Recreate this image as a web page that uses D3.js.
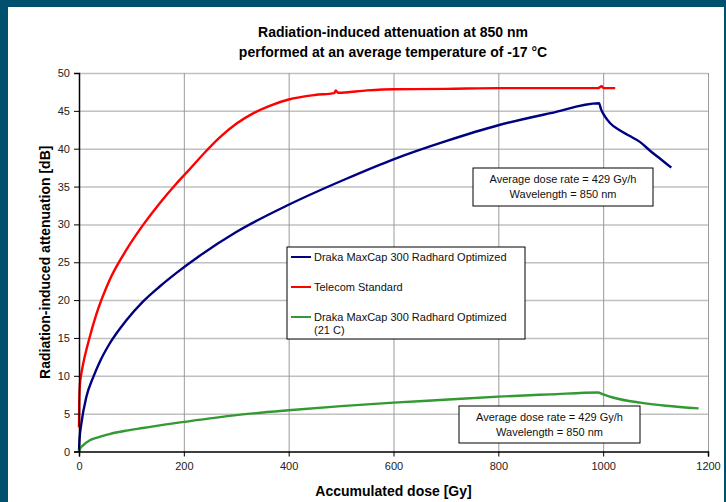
<html>
<head>
<script src="https://d3js.org/d3.v7.min.js"></script>
<style>
  body { margin: 0; background: #00506e; }
  text { font-family: "Liberation Sans", Arial, sans-serif; }
  .grid-h line { stroke: #c0c0c0; stroke-width: 1.5; }
  .grid-v line { stroke: #9a9a9a; stroke-width: 1; }
  .grid-h .domain, .grid-v .domain { stroke: none; }
</style>
</head>
<body>
<svg id="chart" width="726" height="502"></svg>
<script>
// data
const xTicks = [0, 200, 400, 600, 800, 1000, 1200];
const yTicks = [0, 5, 10, 15, 20, 25, 30, 35, 40, 45, 50];

const telecomDose = [0, 0.5, 1.5, 4, 8, 20, 33, 58, 90, 122, 154, 186, 210, 240, 267, 300, 333, 365, 400, 450, 487, 490, 494, 550, 600, 700, 800, 900, 990, 997, 1000, 1004, 1023];
const telecomAtt  = [3.2, 6.5, 8.6, 10.1, 11.6, 15.0, 18.1, 22.6, 26.6, 29.9, 32.8, 35.4, 37.2, 39.5, 41.4, 43.3, 44.7, 45.7, 46.5, 47.1, 47.35, 47.7, 47.4, 47.7, 47.85, 47.9, 48.0, 48.0, 48.0, 48.25, 48.05, 48.0, 48.0];

const maxcapDose = [0, 1, 4.5, 14, 27, 40, 58, 90, 122, 154, 186, 229, 300, 400, 509, 600, 700, 800, 900, 992, 996, 1003, 1013, 1030, 1050, 1070, 1090, 1110, 1130];
const maxcapAtt  = [0, 1.6, 3.7, 7.2, 9.8, 11.9, 14.2, 17.3, 19.8, 21.8, 23.6, 25.8, 29.0, 32.6, 36.0, 38.6, 41.0, 43.1, 44.7, 46.0, 45.2, 44.3, 43.4, 42.5, 41.7, 40.9, 39.7, 38.6, 37.5];

const warmDose = [0, 2, 7.6, 20, 33, 58, 90, 122, 154, 205, 300, 400, 500, 600, 689, 800, 900, 990, 1000, 1020, 1071, 1120, 1182];
const warmAtt  = [0, 0.35, 0.8, 1.45, 1.8, 2.3, 2.75, 3.1, 3.45, 3.95, 4.8, 5.45, 6.0, 6.45, 6.8, 7.25, 7.55, 7.8, 7.55, 7.1, 6.45, 6.05, 5.7];

const seriesNames  = ["Draka MaxCap 300 Radhard Optimized", "Telecom Standard", "Draka MaxCap 300 Radhard Optimized"];
const seriesColors = ["#000080", "#ff0000", "#339933"];
const noteLines = ["Average dose rate = 429 Gy/h", "Wavelength = 850 nm"];

let svg = d3.select('svg#chart');

// white panel with the dark frame around it
svg.append('rect').attr('x', 8).attr('y', 7).attr('width', 716).attr('height', 495).attr('fill', 'white');

let margins = { left: 79, top: 73, right: 18, bottom: 50 };
let inner_w = 708 - 79;
let inner_h = 451.5 - 73;

let x = d3.scaleLinear().domain([0, 1200]).range([0, inner_w]);
let y = d3.scaleLinear().domain([0, 50]).range([inner_h, 0]);

let plot = svg.append('g').attr('transform', `translate(${margins.left},${margins.top})`);

plot.append('g').attr('class', 'grid-h')
    .call(d3.axisLeft(y).tickValues(yTicks.slice(1)).tickFormat('').tickSize(-inner_w));
plot.append('g').attr('class', 'grid-v')
    .call(d3.axisBottom(x).tickValues(xTicks.slice(1)).tickFormat('').tickSize(inner_h));

// series lines
let line = d3.line().x(d => x(d[0])).y(d => y(d[1])).curve(d3.curveMonotoneX);
let series = [
  d3.zip(maxcapDose, maxcapAtt),
  d3.zip(telecomDose, telecomAtt),
  d3.zip(warmDose, warmAtt)
];
series.forEach((pts, i) => {
  plot.append('path')
      .attr('d', line(pts))
      .attr('fill', 'none')
      .attr('stroke', seriesColors[i])
      .attr('stroke-width', 2.4)
      .attr('stroke-linejoin', 'round');
});

// axes
let yAxis = plot.append('g')
    .call(d3.axisLeft(y).tickValues(yTicks).tickSize(5).tickPadding(4));
let xAxis = plot.append('g')
    .attr('transform', `translate(0,${inner_h})`)
    .call(d3.axisBottom(x).tickValues(xTicks).tickFormat(d3.format('d')).tickSize(5).tickPadding(6));
[xAxis, yAxis].forEach(a => {
  a.select('.domain').attr('stroke', '#000').attr('stroke-width', 1.5);
  a.selectAll('.tick line').attr('stroke', '#000');
  a.selectAll('.tick text').style('font-size', '11px').attr('fill', '#222')
   .style('font-family', '"Liberation Sans", Arial, sans-serif');
});

// titles
svg.append('text').attr('x', 393).attr('y', 37).attr('text-anchor', 'middle')
   .style('font-size', '14px').style('font-weight', 'bold')
   .text('Radiation-induced attenuation at 850 nm');
svg.append('text').attr('x', 393).attr('y', 57).attr('text-anchor', 'middle')
   .style('font-size', '14px').style('font-weight', 'bold')
   .text('performed at an average temperature of -17 °C');

svg.append('text').attr('x', margins.left + inner_w / 2).attr('y', 496).attr('text-anchor', 'middle')
   .style('font-size', '14px').style('font-weight', 'bold')
   .text('Accumulated dose [Gy]');
svg.append('text')
   .attr('transform', `translate(50,${margins.top + inner_h / 2}) rotate(-90)`)
   .attr('text-anchor', 'middle')
   .style('font-size', '14px').style('font-weight', 'bold')
   .text('Radiation-induced attenuation [dB]');

// legend
let legend = svg.append('g').attr('transform', 'translate(287,247)');
legend.append('rect').attr('width', 238).attr('height', 92)
      .attr('fill', 'white').attr('stroke', '#000').attr('stroke-width', 1);
let legendRows = [10, 40, 70];
seriesNames.forEach((name, i) => {
  legend.append('line').attr('x1', 4).attr('x2', 24)
        .attr('y1', legendRows[i]).attr('y2', legendRows[i])
        .attr('stroke', seriesColors[i]).attr('stroke-width', 2);
  legend.append('text').attr('x', 27).attr('y', legendRows[i] + 4)
        .style('font-size', '11px').attr('fill', '#111').text(name);
});
legend.append('text').attr('x', 27).attr('y', legendRows[2] + 17)
      .style('font-size', '11px').attr('fill', '#111').text('(21 C)');

// note boxes
function note(x0, y0, w, h) {
  let g = svg.append('g').attr('transform', `translate(${x0},${y0})`);
  g.append('rect').attr('width', w).attr('height', h)
   .attr('fill', 'white').attr('stroke', '#000').attr('stroke-width', 1);
  noteLines.forEach((t, i) => {
    g.append('text').attr('x', w / 2).attr('y', 15 + i * 15).attr('text-anchor', 'middle')
     .style('font-size', '11px').attr('fill', '#111').text(t);
  });
}
note(473, 168, 180, 38);
note(459, 406, 181, 37);
</script>
</body>
</html>
